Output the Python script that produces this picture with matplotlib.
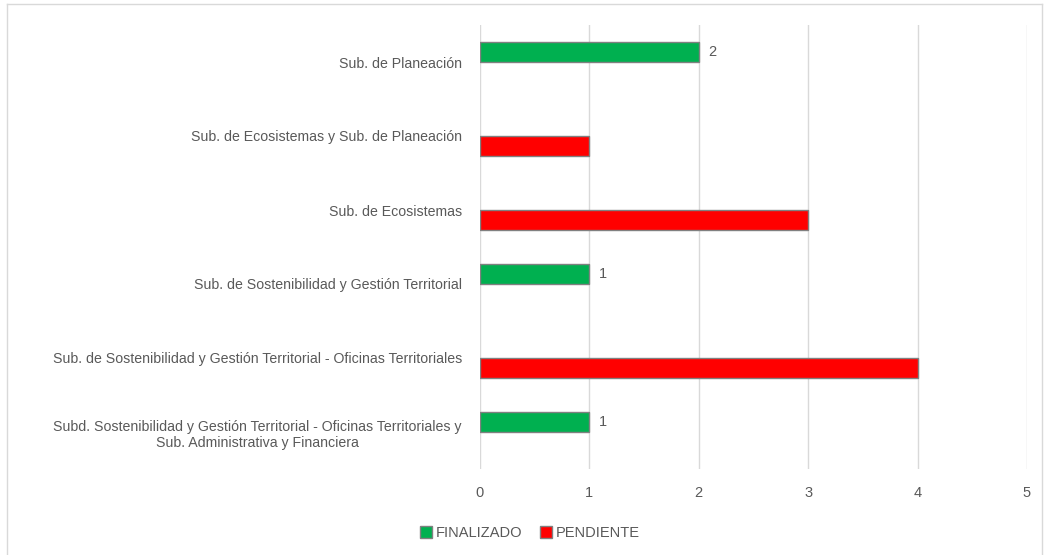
import matplotlib
matplotlib.use("Agg")
import matplotlib.pyplot as plt
from matplotlib.lines import Line2D
from matplotlib.patches import Patch
import numpy as np

categories = [
    "Sub. de Planeación",
    "Sub. de Ecosistemas y Sub. de Planeación",
    "Sub. de Ecosistemas",
    "Sub. de Sostenibilidad y Gestión Territorial",
    "Sub. de Sostenibilidad y Gestión Territorial - Oficinas Territoriales",
    "Subd. Sostenibilidad y Gestión Territorial - Oficinas Territoriales y\nSub. Administrativa y Financiera",
]
finalizado = [2, 0, 0, 1, 0, 1]
pendiente = [0, 1, 3, 0, 4, 0]
xticks = [0, 1, 2, 3, 4, 5]

FONT = ["Liberation Sans", "DejaVu Sans"]
plt.rcParams["font.family"] = FONT
TXT = "#595959"
GREEN = "#00b050"
RED = "#ff0000"
EDGE = "#808080"

fig = plt.figure(figsize=(10.48, 5.55), dpi=100)
ax = fig.add_axes([480 / 1048, 1 - 469 / 555, (1027 - 480) / 1048, (469 - 25) / 555])

y = np.arange(len(categories))
h = 0.27
ef = [EDGE if v else "none" for v in finalizado]
ep = [EDGE if v else "none" for v in pendiente]
bf = ax.barh(y - h / 2, finalizado, height=h, color=GREEN, edgecolor=ef, linewidth=1, label="FINALIZADO", zorder=3)
bp = ax.barh(y + h / 2, pendiente, height=h, color=RED, edgecolor=ep, linewidth=1, label="PENDIENTE", zorder=3)

for rect, v in zip(bf, finalizado):
    if v:
        ax.annotate(str(v), (rect.get_width(), rect.get_y() + rect.get_height() / 2),
                    xytext=(7, 0), textcoords="offset points", va="center", ha="left",
                    fontsize=10.5, color=TXT)

ax.set_xlim(0, 5)
ax.set_ylim(len(categories) - 0.5, -0.5)
ax.set_xticks(xticks)
ax.set_xticklabels([str(t) for t in xticks])
ax.set_yticks(y)
ax.set_yticklabels(categories, multialignment="center")
ax.tick_params(axis="y", length=0, pad=13, labelsize=10.2, labelcolor=TXT)
ax.tick_params(axis="x", length=0, pad=12, labelsize=10.5, labelcolor=TXT)
for s in ax.spines.values():
    s.set_visible(False)
ax.grid(axis="x", color="#d9d9d9", linewidth=1, zorder=0)
ax.set_axisbelow(True)

handles = [Patch(facecolor=GREEN, edgecolor=EDGE, linewidth=1), Patch(facecolor=RED, edgecolor=EDGE, linewidth=1)]
fig.legend(handles, ["FINALIZADO", "PENDIENTE"], loc="center", bbox_to_anchor=(530 / 1048, 1 - 533 / 555),
           ncol=2, frameon=False, fontsize=10.5, labelcolor=TXT, handlelength=0.8, handleheight=0.8,
           handletextpad=0.3, columnspacing=1.2)

# outer chart border
W, H = 1048, 555
bc = "#d9d9d9"
fig.add_artist(Line2D([7 / W, 7 / W], [0, 1 - 4 / H], color=bc, lw=1, transform=fig.transFigure))
fig.add_artist(Line2D([1042 / W, 1042 / W], [0, 1 - 4 / H], color=bc, lw=1, transform=fig.transFigure))
fig.add_artist(Line2D([7 / W, 1042 / W], [1 - 4 / H, 1 - 4 / H], color=bc, lw=1, transform=fig.transFigure))

fig.savefig("out.png", dpi=100)
